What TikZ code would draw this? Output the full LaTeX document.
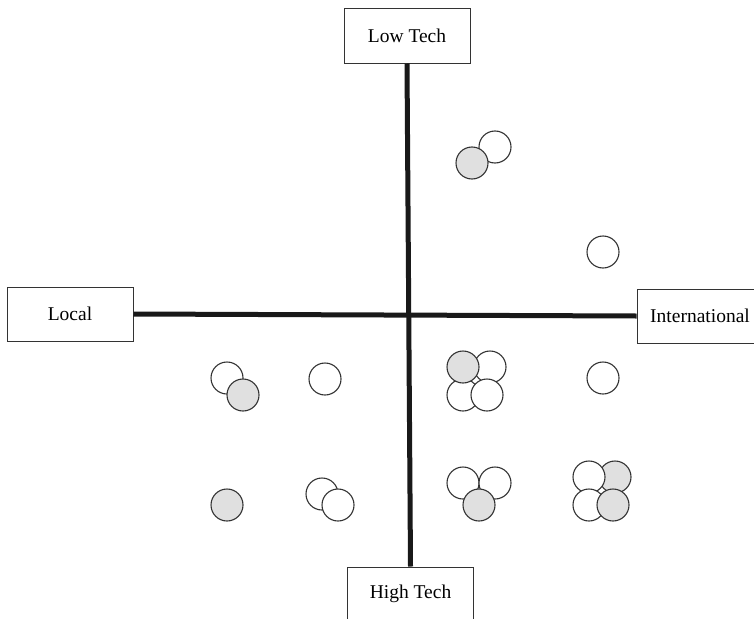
\documentclass[tikz,border=0pt]{standalone}
\usepackage{fontspec}
\setmainfont{Liberation Serif}
\definecolor{lineg}{HTML}{333333}
\definecolor{fillg}{HTML}{E0E0E0}
\begin{document}
\begin{tikzpicture}[x=1pt,y=-1pt,
  lbox/.style={draw=lineg,line width=1pt,fill=white,minimum width=126pt,minimum height=54pt,inner sep=0pt,font=\fontsize{19.5}{22}\selectfont},
  axis/.style={line width=5pt,black!90},
  wc/.style={circle,draw=lineg,line width=1.1pt,fill=white,minimum size=32pt,inner sep=0pt},
  gc/.style={wc,fill=fillg}]
\useasboundingbox (0,0) rectangle (754,618);
\clip (0,0) rectangle (754,618);
\fill[white] (0,0) rectangle (754,618);
\node[lbox] (low) at (407,36) {Low Tech};
\node[lbox] (local) at (70,314) {Local};
\node[lbox] (intl) at (700,316) {International};
\node[lbox] (high) at (410.5,594) {High Tech};
\draw[axis] (local.east) -- (intl.west);
\draw[axis] (low.south) -- (high.north);
% top right quadrant
\node[wc] (a1) at (495,147) {};
\node[gc] (a2) at (472,163) {};
\node[wc] (b1) at (603,252) {};
% lower right cluster 1
\node[wc] (c2) at (490,367) {};
\node[wc] (c3) at (463,395) {};
\node[gc] (c1) at (463,367) {};
\node[wc] (c4) at (487,395) {};
\node[wc] (d1) at (603,378) {};
% lower right cluster 2
\node[wc] (e1) at (463,483) {};
\node[wc] (e2) at (495,483) {};
\node[gc] (e3) at (479,505) {};
% lower right cluster 3
\node[gc] (f2) at (615,477) {};
\node[wc] (f1) at (589,477) {};
\node[wc] (f3) at (589,505) {};
\node[gc] (f4) at (613,505) {};
% lower left
\node[wc] (g1) at (227,378) {};
\node[gc] (g2) at (243,395) {};
\node[wc] (h1) at (325,379) {};
\node[gc] (i1) at (227,505) {};
\node[wc] (j1) at (322,494) {};
\node[wc] (j2) at (338,505) {};
\end{tikzpicture}
\end{document}
